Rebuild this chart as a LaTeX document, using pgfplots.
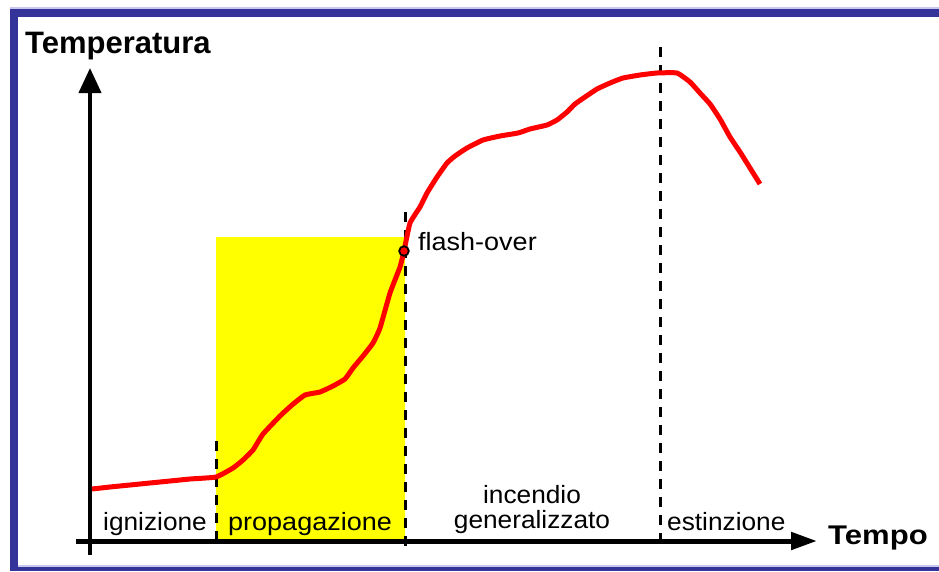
\documentclass[border=0pt]{standalone}
\usepackage{fontspec}
\setmainfont{Liberation Sans}
\usepackage{pgfplots}
\pgfplotsset{compat=1.18}
\usetikzlibrary{arrows.meta}
\definecolor{frameblue}{HTML}{333399}
\definecolor{framelight}{HTML}{C8C8EE}
\definecolor{pureyellow}{HTML}{FFFF00}
\begin{document}
\begin{tikzpicture}
\begin{axis}[
  scale only axis, width=939pt, height=571pt,
  xmin=0, xmax=939, ymin=0, ymax=571, y dir=reverse,
  axis lines=none, clip=false,
]
% background
\fill[white] (axis cs:0,0) rectangle (axis cs:939,571);
% frame
\fill[framelight] (axis cs:10,6.5) rectangle (axis cs:939,8.5);
\fill[frameblue] (axis cs:10,8.5) rectangle (axis cs:939,16.5);
\fill[frameblue] (axis cs:10,8.5) rectangle (axis cs:18,571);
\fill[framelight] (axis cs:18,565) rectangle (axis cs:939,567);
\fill[frameblue] (axis cs:18,567) rectangle (axis cs:939,571);
% yellow propagation area
\addplot[fill=pureyellow, draw=none] coordinates {(216,237) (405,237) (405,540) (216,540) (216,237)};
% dashed phase separators
\addplot[black, line width=3pt, dash pattern=on 10pt off 8pt] coordinates {(216,441) (216,548)};
\addplot[black, line width=3pt, dash pattern=on 10pt off 8pt] coordinates {(405,212) (405,548)};
\addplot[black, line width=3pt, dash pattern=on 10pt off 8pt] coordinates {(660,47) (660,548)};
% axes
\addplot[black, line width=4pt, -{Triangle[length=25pt,width=22pt]}] coordinates {(90,555) (90,68)};
\addplot[black, line width=5pt, -{Triangle[length=26pt,width=17pt]}] coordinates {(76,541) (817,541)};
% temperature curve
\addplot[red, line width=5pt, line join=round, smooth, tension=0.25] coordinates {
(92,489) (110,487) (140,484) (160,482) (190,479) (216,477) (233,468) (243,460)
(253,450) (263,434) (280,416) (292,405) (305,395) (320,392) (333,386) (345,379)
(353,368) (363,356) (373,343) (380,328) (390,293) (400,267) (404,251) (410,223)
(420,207) (427,193) (437,177) (447,163) (455,156) (467,148) (483,140) (500,136)
(518,133) (530,129) (547,125) (557,120) (567,112) (575,104) (585,97) (597,89)
(610,83) (623,78) (640,75) (657,73) (677,73) (690,82) (700,93) (710,104)
(720,119) (730,137) (740,152) (750,168) (760,184)
};
% flash-over point
\addplot[only marks, mark=*, mark size=4.8pt, mark options={fill=red, draw=black, line width=1.8pt}] coordinates {(404,251)};
% labels
\node[anchor=base west, inner sep=0pt, xscale=1.0] at (axis cs:25,53) {\fontsize{31}{33}\selectfont\bfseries Temperatura};
\node[anchor=base west, inner sep=0pt, xscale=1.15] at (axis cs:828,544) {\fontsize{27}{29}\selectfont\bfseries Tempo};
\node[anchor=base west, inner sep=0pt, xscale=1.05] at (axis cs:103,530) {\fontsize{25}{27}\selectfont ignizione};
\node[anchor=base west, inner sep=0pt, xscale=1.08] at (axis cs:228,530) {\fontsize{25}{27}\selectfont propagazione};
\node[anchor=base, inner sep=0pt, xscale=1.05] at (axis cs:532,503) {\fontsize{25}{27}\selectfont incendio};
\node[anchor=base, inner sep=0pt, xscale=1.05] at (axis cs:532,528) {\fontsize{25}{27}\selectfont generalizzato};
\node[anchor=base west, inner sep=0pt, xscale=1.05] at (axis cs:667,530) {\fontsize{25}{27}\selectfont estinzione};
\node[anchor=base west, inner sep=0pt, xscale=1.08] at (axis cs:418,250) {\fontsize{25}{27}\selectfont flash-over};
\end{axis}
\end{tikzpicture}
\end{document}
